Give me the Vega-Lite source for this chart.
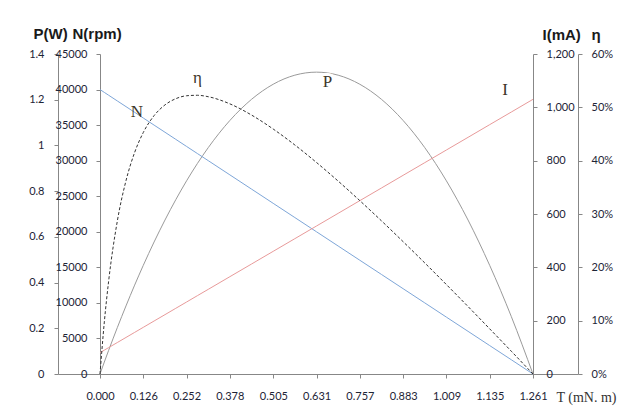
{
  "$schema": "https://vega.github.io/schema/vega-lite/v6.json",
  "width": 520,
  "height": 320,
  "autosize": {"type": "none"},
  "padding": {"left": 58, "top": 54, "right": 63, "bottom": 43},
  "background": "white",
  "config": {
    "view": {"stroke": null},
    "axis": {
      "labelFont": "Lato",
      "labelFontSize": 11,
      "labelColor": "#1d2436",
      "domainColor": "#878787",
      "tickColor": "#878787",
      "tickSize": 4,
      "tickCount": 30,
      "grid": false,
      "labelFlush": false,
      "labelOverlap": false,
      "labelBound": false,
      "titleColor": "#1a1a1a"
    }
  },
  "data": {
    "values": [
      {"T": 0, "N": 40000, "P": 0, "I": 80, "eta": 0},
      {"T": 0.0126, "N": 39600, "P": 0.0523, "I": 89.5, "eta": 0.0974},
      {"T": 0.0252, "N": 39200, "P": 0.1035, "I": 99, "eta": 0.1743},
      {"T": 0.0504, "N": 38400, "P": 0.2028, "I": 118, "eta": 0.2865},
      {"T": 0.0757, "N": 37600, "P": 0.2979, "I": 137, "eta": 0.3624},
      {"T": 0.1009, "N": 36800, "P": 0.3888, "I": 156, "eta": 0.4154},
      {"T": 0.1261, "N": 36000, "P": 0.4754, "I": 175, "eta": 0.4528},
      {"T": 0.1576, "N": 35000, "P": 0.5777, "I": 198.8, "eta": 0.4845},
      {"T": 0.1892, "N": 34000, "P": 0.6735, "I": 222.5, "eta": 0.5045},
      {"T": 0.2207, "N": 33000, "P": 0.7626, "I": 246.3, "eta": 0.5162},
      {"T": 0.2522, "N": 32000, "P": 0.8452, "I": 270, "eta": 0.5217},
      {"T": 0.2837, "N": 31000, "P": 0.9211, "I": 293.8, "eta": 0.5226},
      {"T": 0.3153, "N": 30000, "P": 0.9904, "I": 317.5, "eta": 0.5199},
      {"T": 0.3783, "N": 28000, "P": 1.1093, "I": 365, "eta": 0.5065},
      {"T": 0.4414, "N": 26000, "P": 1.2017, "I": 412.5, "eta": 0.4855},
      {"T": 0.5044, "N": 24000, "P": 1.2677, "I": 460, "eta": 0.4593},
      {"T": 0.5675, "N": 22000, "P": 1.3074, "I": 507.5, "eta": 0.4294},
      {"T": 0.6305, "N": 20000, "P": 1.3206, "I": 555, "eta": 0.3966},
      {"T": 0.6936, "N": 18000, "P": 1.3074, "I": 602.5, "eta": 0.3617},
      {"T": 0.7566, "N": 16000, "P": 1.2677, "I": 650, "eta": 0.3251},
      {"T": 0.8197, "N": 14000, "P": 1.2017, "I": 697.5, "eta": 0.2872},
      {"T": 0.8827, "N": 12000, "P": 1.1093, "I": 745, "eta": 0.2482},
      {"T": 0.9458, "N": 10000, "P": 0.9904, "I": 792.5, "eta": 0.2083},
      {"T": 1.0088, "N": 8000, "P": 0.8452, "I": 840, "eta": 0.1677},
      {"T": 1.0719, "N": 6000, "P": 0.6735, "I": 887.5, "eta": 0.1265},
      {"T": 1.1349, "N": 4000, "P": 0.4754, "I": 935, "eta": 0.0847},
      {"T": 1.198, "N": 2000, "P": 0.2509, "I": 982.5, "eta": 0.0426},
      {"T": 1.261, "N": 0, "P": 0, "I": 1030, "eta": 0}
    ]
  },
  "encoding": {
    "x": {
      "field": "T",
      "type": "quantitative",
      "scale": {"domain": [-0.1223, 1.3921], "nice": false, "zero": false},
      "axis": {
        "values": [0, 0.126, 0.252, 0.378, 0.505, 0.631, 0.757, 0.883, 1.009, 1.135, 1.261],
        "tickCount": 30,
        "format": ".3f",
        "labelPadding": 12,
        "labelOverlap": false,
        "title": "T (mN. m)",
        "titleFont": "Liberation Serif",
        "titleFontSize": 14,
        "titleFontWeight": "normal",
        "titleAlign": "left",
        "titleBaseline": "alphabetic",
        "titleX": 498,
        "titleY": 27,
        "titleColor": "#333333"
      }
    }
  },
  "layer": [
    {
      "layer": [
        {
          "mark": {"type": "line", "color": "#9a9a9a", "strokeWidth": 1, "interpolate": "monotone"},
          "encoding": {
            "y": {
              "field": "P",
              "type": "quantitative",
              "scale": {"domain": [0, 1.4], "nice": false},
              "axis": {
                "orient": "left",
                "offset": 0,
                "values": [0, 0.2, 0.4, 0.6, 0.8, 1, 1.2, 1.4],
                "tickCount": 30,
                "format": "~g",
                "labelPadding": 10,
                "labelOverlap": false,
                "title": "P(W)",
                "titleAngle": 0,
                "titleAlign": "left",
                "titleBaseline": "alphabetic",
                "titleX": -25,
                "titleY": -16,
                "titleFont": "Liberation Sans",
                "titleFontSize": 15,
                "titleFontWeight": "bold"
              }
            }
          }
        },
        {
          "data": {"values": [{"T": 0.6625, "P": 1.2556, "lab": "P"}]},
          "mark": {"type": "text", "font": "Liberation Serif", "fontSize": 17, "align": "center", "baseline": "alphabetic", "stroke": "white", "strokeWidth": 6, "color": "white"},
          "encoding": {"y": {"field": "P", "type": "quantitative"}, "text": {"field": "lab"}}
        },
        {
          "data": {"values": [{"T": 0.6625, "P": 1.2556, "lab": "P"}]},
          "mark": {"type": "text", "font": "Liberation Serif", "fontSize": 17, "align": "center", "baseline": "alphabetic", "color": "#3d3528"},
          "encoding": {"y": {"field": "P", "type": "quantitative"}, "text": {"field": "lab"}}
        }
      ]
    },
    {
      "layer": [
        {
          "mark": {"type": "line", "color": "#7ea6d8", "strokeWidth": 1},
          "encoding": {
            "y": {
              "field": "N",
              "type": "quantitative",
              "scale": {"domain": [0, 45000], "nice": false},
              "axis": {
                "orient": "left",
                "offset": -42,
                "values": [0, 5000, 10000, 15000, 20000, 25000, 30000, 35000, 40000, 45000],
                "tickCount": 30,
                "format": "d",
                "labelPadding": 9,
                "labelOverlap": false,
                "title": "N(rpm)",
                "titleAngle": 0,
                "titleAlign": "left",
                "titleBaseline": "alphabetic",
                "titleX": -28,
                "titleY": -16,
                "titleFont": "Liberation Sans",
                "titleFontSize": 15,
                "titleFontWeight": "bold"
              }
            }
          }
        },
        {
          "data": {"values": [{"T": 0.1078, "N": 36141, "lab": "N"}]},
          "mark": {"type": "text", "font": "Liberation Serif", "fontSize": 17, "align": "center", "baseline": "alphabetic", "color": "#3d3528"},
          "encoding": {"y": {"field": "N", "type": "quantitative"}, "text": {"field": "lab"}}
        }
      ]
    },
    {
      "layer": [
        {
          "mark": {"type": "line", "color": "#e89a9a", "strokeWidth": 1},
          "encoding": {
            "y": {
              "field": "I",
              "type": "quantitative",
              "scale": {"domain": [0, 1200], "nice": false},
              "axis": {
                "orient": "right",
                "offset": -45,
                "values": [0, 200, 400, 600, 800, 1000, 1200],
                "tickCount": 30,
                "format": ",.0f",
                "labelPadding": 9,
                "labelOverlap": false,
                "title": "I(mA)",
                "titleAngle": 0,
                "titleAlign": "left",
                "titleBaseline": "alphabetic",
                "titleX": 9,
                "titleY": -15,
                "titleFont": "Liberation Sans",
                "titleFontSize": 15,
                "titleFontWeight": "bold"
              }
            }
          }
        },
        {
          "data": {"values": [{"T": 1.1795, "I": 1046, "lab": "I"}]},
          "mark": {"type": "text", "font": "Liberation Serif", "fontSize": 17, "align": "center", "baseline": "alphabetic", "color": "#3d3528"},
          "encoding": {"y": {"field": "I", "type": "quantitative"}, "text": {"field": "lab"}}
        }
      ]
    },
    {
      "layer": [
        {
          "mark": {"type": "line", "color": "#333333", "strokeWidth": 1, "strokeDash": [3, 2], "interpolate": "monotone"},
          "encoding": {
            "y": {
              "field": "eta",
              "type": "quantitative",
              "scale": {"domain": [0, 0.6], "nice": false},
              "axis": {
                "orient": "right",
                "offset": 0,
                "values": [0, 0.1, 0.2, 0.3, 0.4, 0.5, 0.6],
                "tickCount": 30,
                "format": ".0%",
                "labelPadding": 9,
                "labelOverlap": false,
                "title": "η",
                "titleAngle": 0,
                "titleAlign": "left",
                "titleBaseline": "alphabetic",
                "titleX": 13,
                "titleY": -15,
                "titleFont": "Liberation Sans",
                "titleFontSize": 15,
                "titleFontWeight": "bold"
              }
            }
          }
        },
        {
          "data": {"values": [{"T": 0.2839, "eta": 0.5447, "lab": "η"}]},
          "mark": {"type": "text", "font": "Liberation Serif", "fontSize": 17, "align": "center", "baseline": "alphabetic", "color": "#3d3528"},
          "encoding": {"y": {"field": "eta", "type": "quantitative"}, "text": {"field": "lab"}}
        }
      ]
    }
  ],
  "resolve": {"scale": {"y": "independent"}, "axis": {"y": "independent"}}
}
